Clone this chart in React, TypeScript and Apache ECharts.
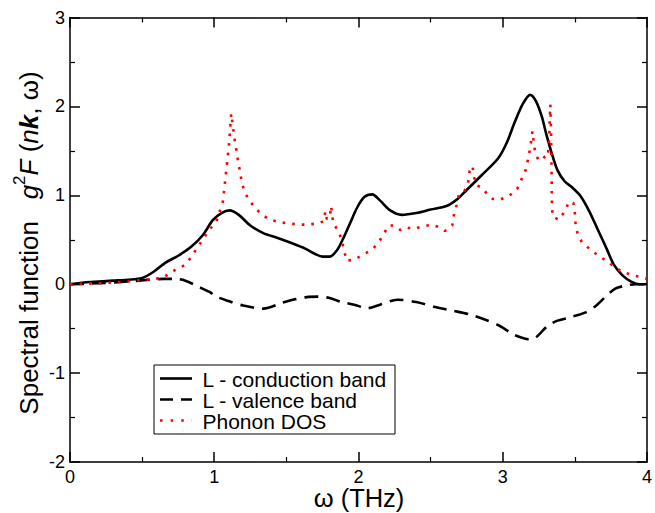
import React, { useEffect, useRef } from "react";
import * as echarts from "echarts";

// ---- data ----
const condOmega = [0, 0.1, 0.2, 0.3, 0.4, 0.5, 0.58, 0.66, 0.75, 0.84, 0.92, 0.99, 1.05, 1.107, 1.17, 1.25, 1.34, 1.44, 1.54, 1.63, 1.7, 1.75, 1.8, 1.85, 1.89, 1.94, 1.99, 2.04, 2.095, 2.15, 2.22, 2.3, 2.4, 2.5, 2.61, 2.68, 2.75, 2.85, 2.97, 3.03, 3.08, 3.14, 3.19, 3.23, 3.27, 3.3, 3.34, 3.38, 3.43, 3.48, 3.54, 3.6, 3.66, 3.72, 3.77, 3.83, 3.89, 3.95, 4.0];
const condValues = [0, 0.02, 0.03, 0.04, 0.05, 0.07, 0.14, 0.24, 0.32, 0.42, 0.55, 0.72, 0.8, 0.83, 0.78, 0.66, 0.575, 0.52, 0.46, 0.4, 0.34, 0.31, 0.31, 0.38, 0.5, 0.68, 0.86, 0.98, 1.01, 0.94, 0.83, 0.78, 0.8, 0.84, 0.88, 0.95, 1.06, 1.22, 1.42, 1.6, 1.81, 2.03, 2.13, 2.06, 1.89, 1.7, 1.47, 1.28, 1.155, 1.09, 0.99, 0.82, 0.61, 0.4, 0.22, 0.1, 0.03, 0.0, 0.0];

const valOmega = [0, 0.2, 0.4, 0.55, 0.65, 0.73, 0.8, 0.88, 0.97, 1.015, 1.1, 1.2, 1.34, 1.47, 1.56, 1.64, 1.72, 1.8, 1.88, 1.97, 2.06, 2.15, 2.27, 2.4, 2.54, 2.66, 2.77, 2.88, 2.98, 3.08, 3.15, 3.19, 3.23, 3.31, 3.38, 3.45, 3.57, 3.64, 3.72, 3.78, 3.84, 3.92, 4.0];
const valValues = [0, 0.01, 0.03, 0.05, 0.06, 0.06, 0.04, -0.02, -0.09, -0.14, -0.19, -0.24, -0.275, -0.21, -0.17, -0.145, -0.14, -0.155, -0.2, -0.23, -0.27, -0.23, -0.175, -0.2, -0.26, -0.3, -0.34, -0.4, -0.47, -0.57, -0.61, -0.62, -0.6, -0.47, -0.41, -0.38, -0.32, -0.25, -0.13, -0.05, -0.02, 0.0, 0.0];

const dosOmega = [0, 0.1, 0.2, 0.3, 0.4, 0.52, 0.64, 0.73, 0.8, 0.84, 0.89, 0.97, 1.015, 1.06, 1.084, 1.1, 1.118, 1.14, 1.164, 1.19, 1.21, 1.245, 1.29, 1.34, 1.39, 1.46, 1.59, 1.66, 1.73, 1.76, 1.77, 1.78, 1.8, 1.81, 1.825, 1.84, 1.87, 1.9, 1.916, 1.97, 2.03, 2.095, 2.14, 2.18, 2.21, 2.245, 2.29, 2.33, 2.38, 2.445, 2.51, 2.56, 2.6, 2.65, 2.66, 2.68, 2.695, 2.73, 2.76, 2.77, 2.79, 2.8, 2.82, 2.85, 2.89, 2.93, 2.98, 3.045, 3.1, 3.13, 3.16, 3.176, 3.19, 3.2, 3.206, 3.215, 3.226, 3.25, 3.27, 3.295, 3.31, 3.32, 3.325, 3.33, 3.335, 3.338, 3.34, 3.345, 3.39, 3.43, 3.46, 3.49, 3.5, 3.505, 3.52, 3.55, 3.6, 3.66, 3.716, 3.77, 3.83, 3.89, 3.96, 4.0];
const dosValues = [0, 0.005, 0.01, 0.02, 0.03, 0.05, 0.07, 0.16, 0.22, 0.305, 0.43, 0.62, 0.705, 0.93, 1.29, 1.53, 1.92, 1.64, 1.4, 1.155, 1.035, 0.94, 0.845, 0.77, 0.725, 0.695, 0.67, 0.67, 0.69, 0.71, 0.82, 0.735, 0.74, 0.88, 0.68, 0.65, 0.56, 0.39, 0.265, 0.275, 0.33, 0.39, 0.47, 0.58, 0.66, 0.66, 0.61, 0.64, 0.62, 0.65, 0.67, 0.64, 0.6, 0.66, 0.77, 0.89, 1.0, 1.03, 1.14, 1.27, 1.33, 1.21, 1.11, 1.09, 1.02, 0.96, 0.95, 0.995, 1.07, 1.18, 1.29, 1.41, 1.53, 1.65, 1.72, 1.59, 1.47, 1.39, 1.4, 1.44, 1.43, 1.55, 1.81, 2.02, 1.7, 1.36, 0.99, 0.76, 0.725, 0.82, 0.93, 0.91, 0.8, 0.675, 0.556, 0.47, 0.4, 0.325, 0.265, 0.2, 0.137, 0.107, 0.077, 0.06];

const seriesNames = ["L - conduction band", "L - valence band", "Phonon DOS"];
const xTitle = "ω (THz)";
const yTitle = "{a|Spectral function}{a|   }{i|g}{sup|2}{i|F}{a| (}{i|n}{bi|k}{a|, ω)}";

const FONT = "'Liberation Sans', Arial, Helvetica, sans-serif";
const DASH = [14, 8];
const DOT = [2.6, 7];
const lineColors = ["#000", "#000", "#ff0000"];
const legendDashes: (number[] | null)[] = [null, [13, 8], [2.6, 8]];

const zip = (xs: number[], ys: number[]) => xs.map((x, i) => [x, ys[i]]);

export default function App() {
  const ref = useRef<HTMLDivElement>(null);
  useEffect(() => {
    if (!ref.current) return;
    const chart = echarts.init(ref.current, undefined, { renderer: "svg" });

    // legend + axis titles drawn as graphic elements
    const rowY = [378.5, 399.5, 420.5];
    const graphics: any[] = [
      {
        type: "rect",
        shape: { x: 154, y: 365, width: 241, height: 69 },
        style: { fill: "#fff", stroke: "#000", lineWidth: 1 },
        z: 100,
      },
      {
        type: "text",
        x: 359,
        y: 498,
        style: {
          text: xTitle,
          fontSize: 25.5,
          fontFamily: FONT,
          fill: "#000",
          align: "center",
          verticalAlign: "middle",
        },
        z: 100,
      },
      {
        type: "text",
        x: 29,
        y: 243,
        rotation: Math.PI / 2,
        style: {
          text: yTitle,
          fontSize: 26,
          fontFamily: FONT,
          fill: "#000",
          align: "center",
          verticalAlign: "middle",
          rich: {
            a: { fontSize: 26, fontFamily: FONT, fill: "#000", lineHeight: 36 },
            i: { fontSize: 26, fontFamily: FONT, fill: "#000", fontStyle: "italic", lineHeight: 36 },
            bi: { fontSize: 26, fontFamily: FONT, fill: "#000", fontStyle: "italic", fontWeight: "bold", lineHeight: 36 },
            sup: { fontSize: 17, fontFamily: FONT, fill: "#000", lineHeight: 14, verticalAlign: "top" },
          },
        },
        z: 100,
      },
    ];
    seriesNames.forEach((name, i) => {
      graphics.push({
        type: "line",
        shape: { x1: 160, y1: rowY[i], x2: 192, y2: rowY[i] },
        style: { stroke: lineColors[i], lineWidth: 2.6, lineDash: legendDashes[i] },
        z: 101,
      });
      graphics.push({
        type: "text",
        x: 202.5,
        y: rowY[i] + 0.5,
        style: {
          text: name,
          fontSize: 21,
          lineHeight: 19,
          fontFamily: FONT,
          fill: "#000",
          verticalAlign: "middle",
          align: "left",
        },
        z: 101,
      });
    });

    chart.setOption({
      animation: false,
      backgroundColor: "#fff",
      grid: { left: 70, right: 7, top: 17.5, bottom: 51 },
      xAxis: [
        {
          type: "value",
          min: 0,
          max: 4,
          interval: 1,
          position: "bottom",
          axisLine: { show: true, onZero: false, lineStyle: { color: "#000", width: 1.5 } },
          splitLine: { show: false },
          axisTick: { show: true, inside: true, length: 10, lineStyle: { color: "#000", width: 1.5 } },
          minorTick: { show: true, splitNumber: 2, length: 5, lineStyle: { color: "#000", width: 1.2 } },
          axisLabel: { show: true, color: "#000", fontSize: 18, fontFamily: FONT, margin: 6 },
        },
        {
          type: "value",
          min: 0,
          max: 4,
          interval: 1,
          position: "top",
          axisLine: { show: true, onZero: false, lineStyle: { color: "#000", width: 1.5 } },
          splitLine: { show: false },
          axisTick: { show: true, inside: true, length: 10, lineStyle: { color: "#000", width: 1.5 } },
          minorTick: { show: true, splitNumber: 2, length: 5, lineStyle: { color: "#000", width: 1.2 } },
          axisLabel: { show: false },
        },
      ],
      yAxis: [
        {
          type: "value",
          min: -2,
          max: 3,
          interval: 1,
          position: "left",
          axisLine: { show: true, onZero: false, lineStyle: { color: "#000", width: 1.5 } },
          splitLine: { show: false },
          axisTick: { show: true, inside: true, length: 10, lineStyle: { color: "#000", width: 1.5 } },
          minorTick: { show: true, splitNumber: 2, length: 5, lineStyle: { color: "#000", width: 1.2 } },
          axisLabel: { show: true, color: "#000", fontSize: 18, fontFamily: FONT, margin: 5 },
        },
        {
          type: "value",
          min: -2,
          max: 3,
          interval: 1,
          position: "right",
          axisLine: { show: true, onZero: false, lineStyle: { color: "#000", width: 1.5 } },
          splitLine: { show: false },
          axisTick: { show: true, inside: true, length: 10, lineStyle: { color: "#000", width: 1.5 } },
          minorTick: { show: true, splitNumber: 2, length: 5, lineStyle: { color: "#000", width: 1.2 } },
          axisLabel: { show: false },
        },
      ],
      graphic: graphics,
      series: [
        {
          name: seriesNames[0],
          type: "line",
          symbol: "none",
          smooth: 0.3,
          data: zip(condOmega, condValues),
          lineStyle: { color: lineColors[0], width: 2.6, type: "solid" },
        },
        {
          name: seriesNames[1],
          type: "line",
          symbol: "none",
          smooth: 0.3,
          data: zip(valOmega, valValues),
          lineStyle: { color: lineColors[1], width: 2.6, type: DASH },
        },
        {
          name: seriesNames[2],
          type: "line",
          symbol: "none",
          smooth: false,
          data: zip(dosOmega, dosValues),
          lineStyle: { color: lineColors[2], width: 2.6, type: DOT },
        },
      ],
    });
    return () => chart.dispose();
  }, []);
  return (
    <div
      ref={ref}
      style={{ position: "fixed", left: 0, top: 0, width: 655, height: 513, background: "#fff" }}
    />
  );
}
